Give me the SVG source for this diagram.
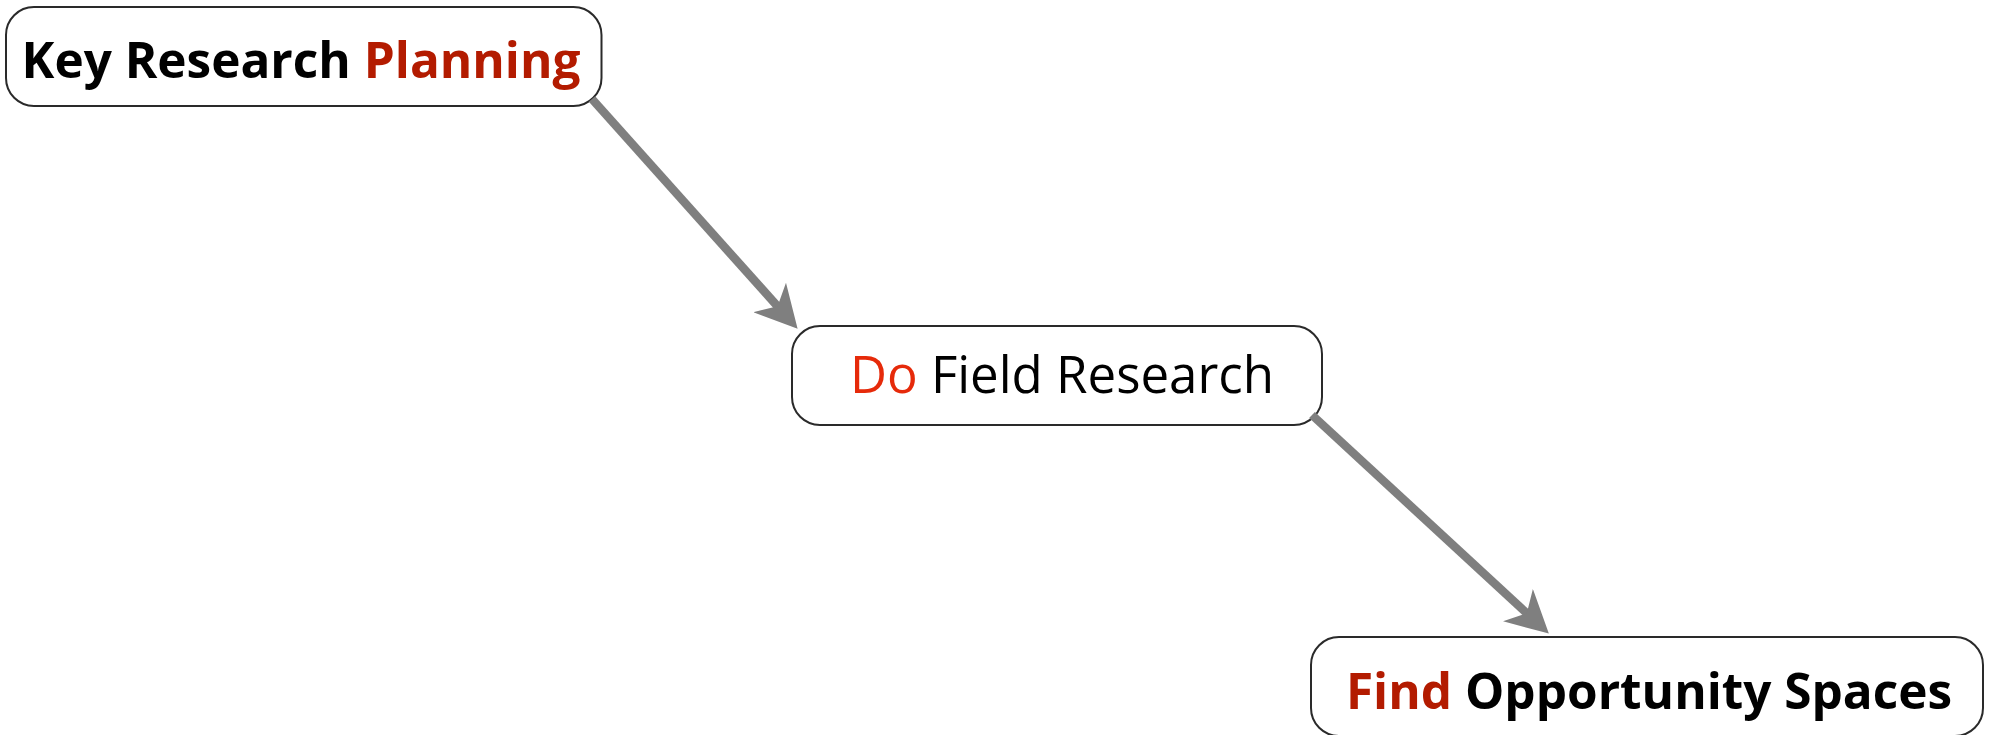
<svg xmlns="http://www.w3.org/2000/svg" width="1992" height="735" viewBox="0 0 1992 735">
<style>
.box{fill:#ffffff;stroke:#2a2a2a;stroke-width:2}
.lbl{font-family:"Open Sans","Noto Sans","Liberation Sans",sans-serif;font-size:51px;fill:#000000;text-anchor:middle}
.m{font-weight:500;font-size:51px}
.b{font-weight:700;font-size:49.5px}
.dark{fill:#b31b00}
.bright{fill:#e62a0a}
.conn{fill:none;stroke:#7f7f7f;stroke-width:8.5;marker-end:url(#ah)}
</style>
<defs>
<marker id="ah" markerUnits="userSpaceOnUse" viewBox="0 0 42 44" markerWidth="42" markerHeight="44" refX="15" refY="22" orient="auto">
<path d="M0,0 L42,22 L0,44 L12,22 Z" fill="#7f7f7f"/>
</marker>
</defs>
<rect x="0" y="0" width="1992" height="735" fill="#ffffff"/>
<g id="node1">
<rect class="box" x="6" y="7" width="595.5" height="99" rx="28" ry="28"/>
<text class="lbl b" x="301" y="77.5">Key Research <tspan class="dark">Planning</tspan></text>
</g>
<g id="node2">
<rect class="box" x="792" y="326" width="530" height="99" rx="28" ry="28"/>
<text class="lbl m" x="1062" y="392.5"><tspan class="bright">Do</tspan> Field Research</text>
</g>
<g id="node3">
<rect class="box" x="1311" y="637" width="672" height="99" rx="28" ry="28"/>
<text class="lbl b" x="1649" y="709"><tspan class="dark">Find</tspan> Opportunity Spaces</text>
</g>
<g id="connectors">
<path class="conn" d="M592,99 L779.6,308.6"/>
<path class="conn" d="M1312,415 L1529,615.3"/>
</g>
</svg>
